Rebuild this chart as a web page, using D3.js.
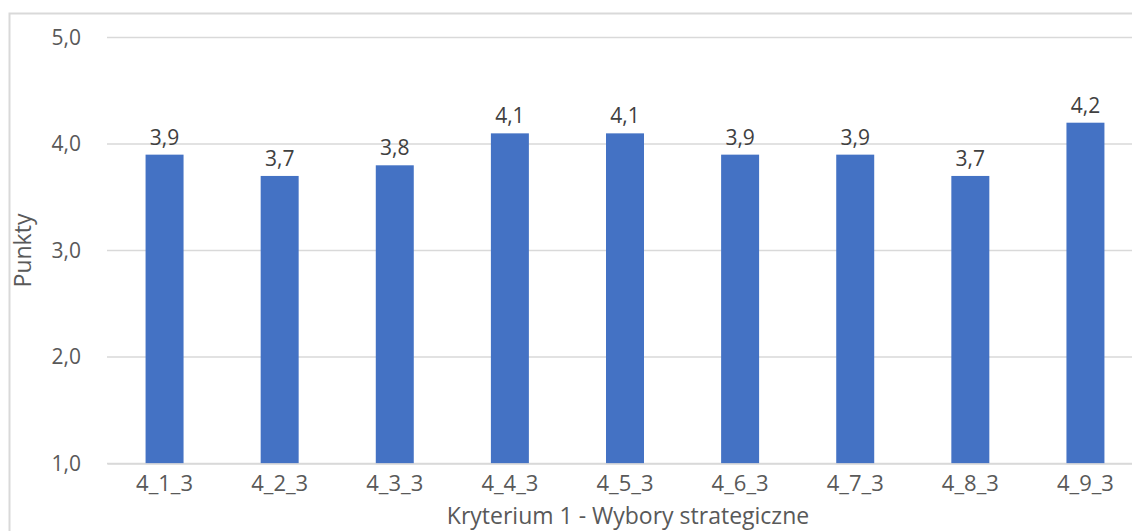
<!DOCTYPE html>
<html>
<head>
<meta charset="utf-8">
<script src="https://cdn.jsdelivr.net/npm/d3@7"></script>
<style>
  html, body { margin: 0; padding: 0; background: #fff; }
  svg { display: block; font-family: "Open Sans", "Liberation Sans", sans-serif; }
</style>
</head>
<body>
<svg id="chart" width="1132" height="531"></svg>
<script>
// Average score per question, criterion 1
const categories = ["4_1_3", "4_2_3", "4_3_3", "4_4_3", "4_5_3", "4_6_3", "4_7_3", "4_8_3", "4_9_3"];
const values = [3.9, 3.7, 3.8, 4.1, 4.1, 3.9, 3.9, 3.7, 4.2];
const yTicks = [1, 2, 3, 4, 5];
const yTitle = "Punkty";
const xTitle = "Kryterium 1 - Wybory strategiczne";

const svg = d3.select("#chart");
const fmt = v => d3.format(".1f")(v).replace(".", ",");

// chart frame
svg.append("rect")
  .attr("x", 9.5).attr("y", 13.5)
  .attr("width", 1140).attr("height", 540)
  .attr("fill", "none").attr("stroke", "#d9d9d9").attr("stroke-width", 2);

const plot = { left: 107, right: 1143, top: 37.5, bottom: 463.5 };

const x = d3.scaleBand()
  .domain(categories)
  .range([plot.left, plot.right])
  .paddingInner(0.67).paddingOuter(0.335);

const y = d3.scaleLinear().domain([1, 5]).range([plot.bottom, plot.top]);

// horizontal gridlines
svg.append("g").selectAll("line").data(yTicks).join("line")
  .attr("x1", plot.left).attr("x2", plot.right)
  .attr("y1", d => y(d)).attr("y2", d => y(d))
  .attr("stroke", "#d9d9d9").attr("stroke-width", 1.5);

// y axis labels
const yAxis = svg.append("g")
  .attr("transform", `translate(${plot.left},0)`)
  .call(d3.axisLeft(y).tickValues(yTicks).tickFormat(fmt).tickSize(0).tickPadding(26));
yAxis.select(".domain").remove();
yAxis.selectAll("text")
  .attr("font-size", 21).attr("fill", "#595959")
  .style("font-family", "'Open Sans', sans-serif");

// bars
svg.append("g").selectAll("rect").data(values).join("rect")
  .attr("x", (d, i) => x(categories[i]))
  .attr("width", x.bandwidth())
  .attr("y", d => y(d))
  .attr("height", d => y(1) - y(d))
  .attr("fill", "#4472c4");

// value labels
svg.append("g").selectAll("text").data(values).join("text")
  .attr("x", (d, i) => x(categories[i]) + x.bandwidth() / 2)
  .attr("y", d => y(d) - 10)
  .attr("text-anchor", "middle")
  .attr("font-size", 21).attr("fill", "#404040")
  .text(fmt);

// x axis labels
const xAxis = svg.append("g")
  .attr("transform", `translate(0,${plot.bottom})`)
  .call(d3.axisBottom(x).tickSize(0).tickPadding(12));
xAxis.select(".domain")
  .attr("stroke", "#d9d9d9").attr("stroke-width", 1.5);
xAxis.selectAll("text")
  .attr("font-size", 22).attr("fill", "#595959")
  .style("font-family", "'Open Sans', sans-serif");

// axis titles
svg.append("text")
  .attr("transform", `translate(31,${(plot.top + plot.bottom) / 2}) rotate(-90)`)
  .attr("text-anchor", "middle")
  .attr("font-size", 23).attr("fill", "#595959")
  .text(yTitle);

svg.append("text")
  .attr("x", 628)
  .attr("y", 524)
  .attr("text-anchor", "middle")
  .attr("font-size", 23).attr("fill", "#595959")
  .text(xTitle);
</script>
</body>
</html>
